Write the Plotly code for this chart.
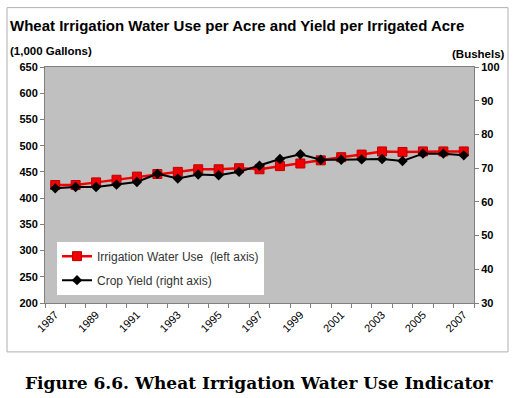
import plotly.graph_objects as go

years = list(range(1987, 2008))
water_use = [425, 425, 430, 435, 441, 446, 450, 455, 455, 457, 455,
             461, 466, 472, 478, 483, 489, 488, 489, 489, 489]
crop_yield = [64.0, 64.4, 64.4, 65.1, 65.9, 68.3, 66.9, 68.1, 67.9, 68.9, 70.7,
              72.7, 74.1, 72.5, 72.5, 72.6, 72.7, 72.1, 74.3, 74.3, 73.8]
label_years = years[::2]
left_ticks = list(range(200, 651, 50))
right_ticks = list(range(30, 101, 10))

W, H = 528, 398
L, R, T, B = 45, 474, 66.5, 303


def px(x):
    return (x - L) / (R - L)


def py(y):
    return (B - y) / (B - T)


fig = go.Figure()
fig.add_trace(go.Scatter(
    x=years, y=water_use, name="Irrigation Water Use  (left axis)",
    mode="lines+markers", legendgroup="a",
    line=dict(color="#f00000", width=2.5),
    marker=dict(symbol="square", size=9, color="#f00000",
                line=dict(color="#c00000", width=1)),
))
fig.add_trace(go.Scatter(
    x=years, y=crop_yield, name="Crop Yield (right axis)", yaxis="y2",
    mode="lines+markers", legendgroup="b",
    line=dict(color="#000000", width=2),
    marker=dict(symbol="diamond", size=8, color="#000000"),
))

fig.update_layout(
    width=W, height=H,
    margin=dict(l=L, r=W - R, t=T, b=H - B),
    paper_bgcolor="white", plot_bgcolor="#c0c0c0",
    showlegend=True,
    legend=dict(x=px(57), y=py(241.5), xanchor="left", yanchor="top",
                bgcolor="white", borderwidth=0, tracegroupgap=5,
                traceorder="grouped",
                font=dict(family="Liberation Sans, Arial", size=12, color="#333333"),
                itemwidth=30),
    xaxis=dict(range=[years[0] - 0.5, years[-1] + 0.5],
               tickvals=label_years, ticktext=[str(y) for y in label_years],
               tickangle=-45, ticks="", showgrid=False, zeroline=False,
               showline=True, linecolor="#808080", linewidth=1, mirror=True,
               tickfont=dict(family="Liberation Sans, Arial", size=11, color="#000000"),
               minor=dict(tickvals=[y - 0.5 for y in years] + [years[-1] + 0.5],
                          ticks="outside", ticklen=4, tickcolor="#808080"),
               ),
    yaxis=dict(range=[200, 650], tickvals=left_ticks, showgrid=False,
               zeroline=False, showline=True, linecolor="#808080",
               ticks="outside", ticklen=4, tickcolor="#808080",
               tickfont=dict(family="Liberation Sans, Arial", size=11, color="#000000",
                             weight="bold")),
    yaxis2=dict(range=[30, 100], tickvals=right_ticks, overlaying="y",
                side="right", showgrid=False, zeroline=False, showline=True,
                linecolor="#808080", ticks="outside", ticklen=4,
                tickcolor="#808080",
                tickfont=dict(family="Liberation Sans, Arial", size=11, color="#000000",
                              weight="bold")),
)

fig.add_shape(type="rect", xref="paper", yref="paper",
              x0=px(7), x1=px(508), y0=py(352), y1=py(7),
              line=dict(color="#b0b0b0", width=1), layer="below")

fig.add_annotation(x=px(8), y=py(25), xref="paper", yref="paper",
                   xanchor="left", yanchor="middle", showarrow=False,
                   text="<b>Wheat Irrigation Water Use per Acre and Yield per Irrigated Acre</b>",
                   font=dict(family="Liberation Sans, Arial", size=15, color="#000000"))
fig.add_annotation(x=px(8), y=py(50), xref="paper", yref="paper",
                   xanchor="left", yanchor="middle", showarrow=False,
                   text="<b>(1,000 Gallons)</b>",
                   font=dict(family="Liberation Sans, Arial", size=11.5, color="#000000"))
fig.add_annotation(x=px(507), y=py(53), xref="paper", yref="paper",
                   xanchor="right", yanchor="middle", showarrow=False,
                   text="<b>(Bushels)</b>",
                   font=dict(family="Liberation Sans, Arial", size=11.5, color="#000000"))
fig.add_annotation(x=px(259), y=py(383), xref="paper", yref="paper",
                   xanchor="center", yanchor="middle", showarrow=False,
                   text="<b>Figure 6.6. Wheat Irrigation Water Use Indicator</b>",
                   font=dict(family="DejaVu Serif, Georgia, serif", size=17, color="#000000"))

fig.write_html("out.html", config={"displayModeBar": False},
               post_script="document.body.style.margin='0';document.body.style.overflow='hidden';")
